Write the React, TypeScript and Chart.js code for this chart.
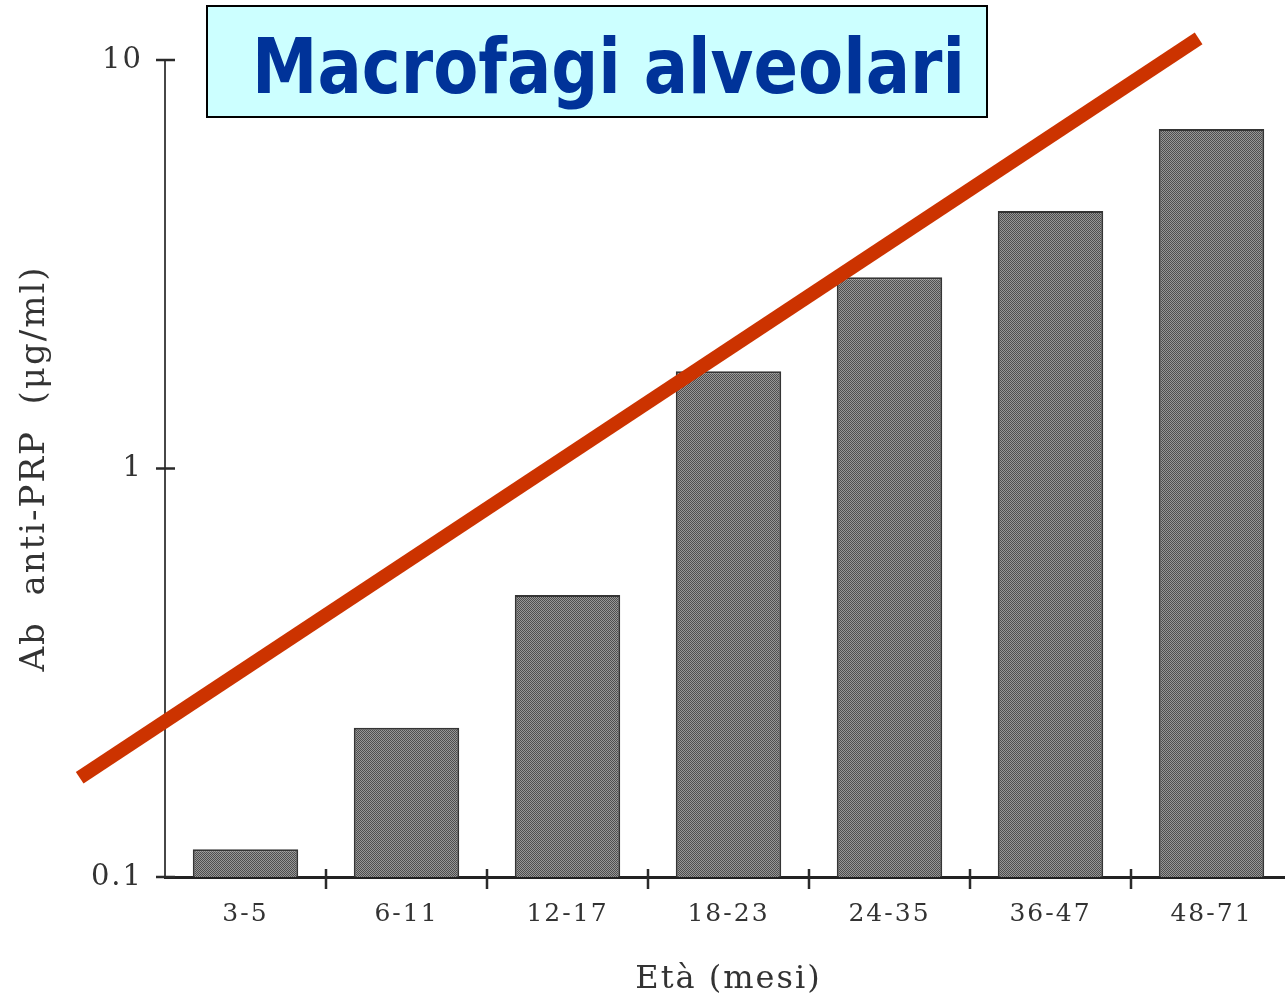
import { useEffect, useRef } from "react";
import { Chart, registerables } from "chart.js";

Chart.register(...registerables);

// Age groups (months) and anti-PRP antibody levels (µg/ml)
const ageGroups = ["3-5", "6-11", "12-17", "18-23", "24-35", "36-47", "48-71"];
const antibodyLevels = [0.117, 0.232, 0.49, 1.73, 2.94, 4.27, 6.78];
const yTickValues = [0.1, 1, 10];

// Overlaid trend line: endpoints in category units / µg/ml
const trendX = [-1.03, 5.92];
const trendY = [0.175, 11.3];

const titleText = "Macrofagi alveolari";
const yAxisTitle = "Ab  anti-PRP  (μg/ml)";
const xAxisTitle = "Età (mesi)";

const SERIF = "'DejaVu Serif', 'Liberation Serif', serif";
const INK = "#333333";

function makeDither(ctx: CanvasRenderingContext2D): CanvasPattern | string {
  const tile = document.createElement("canvas");
  tile.width = 4;
  tile.height = 4;
  const t = tile.getContext("2d");
  if (!t) return "#737373";
  t.fillStyle = "#979797";
  t.fillRect(0, 0, 4, 4);
  t.fillStyle = "#4e4e4e";
  for (let y = 0; y < 4; y++) {
    for (let x = 0; x < 4; x++) {
      if ((x + y) % 2 === 0) t.fillRect(x, y, 1, 1);
    }
  }
  return ctx.createPattern(tile, "repeat") || "#737373";
}

const spacingPlugin = {
  id: "typewriterSpacing",
  beforeDraw(chart: any) {
    chart.ctx.letterSpacing = "2px";
  },
};

const crossTicksPlugin = {
  id: "crossTicks",
  afterDatasetsDraw(chart: any) {
    const { ctx, scales } = chart;
    const y = scales.y;
    const x = scales.x;
    ctx.save();
    ctx.strokeStyle = "#2a2a2a";
    ctx.lineWidth = 2.5;
    ctx.beginPath();
    for (const t of y.ticks) {
      const py = y.getPixelForValue(t.value);
      ctx.moveTo(y.right - 9, py);
      ctx.lineTo(y.right + 10, py);
    }
    for (let i = 1; i < ageGroups.length; i++) {
      const px = x.getPixelForValue(i - 0.5);
      ctx.moveTo(px, x.top - 8);
      ctx.lineTo(px, x.top + 12);
    }
    ctx.stroke();
    ctx.restore();
  },
};

const titleBoxPlugin = {
  id: "titleBox",
  afterDraw(chart: any) {
    const ctx = chart.ctx as CanvasRenderingContext2D;
    ctx.save();
    (ctx as any).letterSpacing = "0px";
    ctx.fillStyle = "#CCFFFF";
    ctx.fillRect(207, 6, 780, 111);
    ctx.strokeStyle = "#000000";
    ctx.lineWidth = 2;
    ctx.strokeRect(207, 6, 780, 111);
    ctx.font = "bold 77px 'DejaVu Sans', Verdana, sans-serif";
    const w = ctx.measureText(titleText).width;
    ctx.translate(252, 93);
    ctx.scale(713 / w, 1);
    ctx.fillStyle = "#003399";
    ctx.textBaseline = "alphabetic";
    ctx.textAlign = "left";
    ctx.fillText(titleText, 0, 0);
    ctx.restore();
  },
};

export default function App() {
  const canvasRef = useRef<HTMLCanvasElement | null>(null);

  useEffect(() => {
    const canvas = canvasRef.current;
    if (!canvas) return;
    const ctx = canvas.getContext("2d");
    if (!ctx) return;
    const dither = makeDither(ctx);

    const chart = new Chart(ctx, {
      type: "bar",
      data: {
        labels: ageGroups,
        datasets: [
          {
            type: "line",
            data: trendX.map((x, i) => ({ x, y: trendY[i] })),
            xAxisID: "x2",
            yAxisID: "y",
            borderColor: "#CC3300",
            borderWidth: 14,
            borderCapStyle: "butt",
            pointRadius: 0,
            tension: 0,
            clip: false,
            order: 0,
          } as any,
          {
            type: "bar",
            data: antibodyLevels,
            xAxisID: "x",
            yAxisID: "y",
            backgroundColor: dither as any,
            borderColor: "#353535",
            borderWidth: 2,
            grouped: false,
            barPercentage: 0.655,
            categoryPercentage: 1,
            order: 1,
          } as any,
        ],
      },
      options: {
        animation: false,
        responsive: false,
        maintainAspectRatio: false,
        layout: { padding: { left: 0, right: 8, top: 60, bottom: 0 } },
        plugins: {
          legend: { display: false },
          tooltip: { enabled: false },
          title: { display: false },
        },
        scales: {
          x: {
            type: "category",
            offset: true,
            grid: { display: false, drawTicks: false },
            border: { display: true, color: "#222222", width: 3 },
            ticks: {
              font: { family: SERIF, size: 25 },
              color: INK,
              padding: 22,
              maxRotation: 0,
              autoSkip: false,
            },
            title: {
              display: true,
              text: xAxisTitle,
              font: { family: SERIF, size: 32 },
              color: INK,
              padding: { top: 0, bottom: 0 },
            },
            afterFit: (s: any) => {
              s.height = 122;
            },
          },
          x2: {
            type: "linear",
            display: false,
            offset: false,
            grace: 0,
            min: -0.5,
            max: ageGroups.length - 0.5,
          },
          y: {
            type: "logarithmic",
            min: 0.1,
            max: 10,
            afterBuildTicks: (s: any) => {
              s.ticks = yTickValues.map((v) => ({ value: v }));
            },
            grid: { display: false, drawTicks: false },
            border: { display: true, color: "#474747", width: 2 },
            ticks: {
              font: { family: SERIF, size: 29 },
              color: INK,
              padding: 22,
              callback: (v: any) => String(v),
            },
            title: {
              display: true,
              text: yAxisTitle,
              font: { family: SERIF, size: 34 },
              color: INK,
              padding: { top: 15, bottom: 0 },
            },
            afterFit: (s: any) => {
              s.width = 165;
            },
          },
        },
      } as any,
      plugins: [spacingPlugin, crossTicksPlugin, titleBoxPlugin],
    });

    return () => chart.destroy();
  }, []);

  return (
    <div
      style={{
        position: "absolute",
        left: 0,
        top: 0,
        width: 1285,
        height: 999,
        overflow: "hidden",
        background: "#ffffff",
      }}
    >
      <canvas ref={canvasRef} width={1300} height={999} style={{ display: "block" }} />
    </div>
  );
}
